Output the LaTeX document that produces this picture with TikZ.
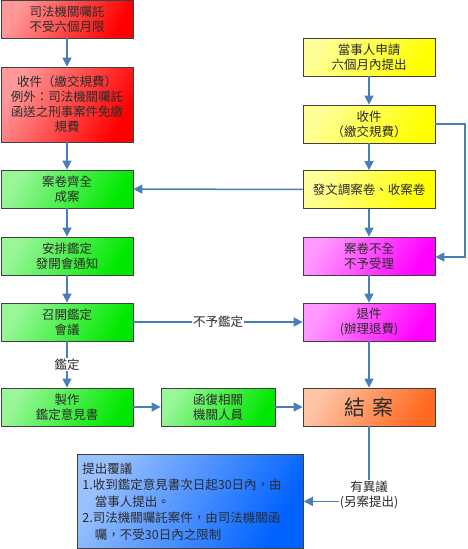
\documentclass[tikz,border=0pt]{standalone}
\usepackage{fontspec}
\setmainfont{Noto Sans CJK TC}
\usetikzlibrary{arrows.meta,positioning}
\definecolor{flow}{HTML}{4A7EBB}
\definecolor{txt}{HTML}{2B2B2B}
\definecolor{court}{HTML}{FF0000}
\definecolor{party}{HTML}{FFFF00}
\definecolor{done}{HTML}{00E800}
\definecolor{reject}{HTML}{FF00FF}
\definecolor{finish}{HTML}{FF6A20}
\definecolor{appealc}{HTML}{0062FF}

\begin{document}
\begin{tikzpicture}[x=1pt, y=-1pt, every node/.style={font=\fontsize{12.5}{15}\selectfont, text=txt},
  b/.style={draw=black!75, line width=0.8pt, minimum width=132pt, minimum height=38pt, align=center, inner sep=2pt},
  grad/.style={left color=#1!40!white, right color=#1, shading angle=60},
  l/.style={draw=flow, line width=1.5pt, -{Triangle[length=9pt,width=9pt]}},
  lab/.style={fill=white, inner sep=1pt, text=txt}]
\useasboundingbox (0,0) rectangle (467,549);
% left column
\node[b, grad=court] (lawreq) at (67,19) {司法機關囑託\\不受六個月限};
\node[b, grad=court, minimum height=75pt] (fee1) at (67,104.5) {收件（繳交規費）\\例外：司法機關囑託\\函送之刑事案件免繳\\規費};
\node[b, grad=done] (complete) at (67,189) {案卷齊全\\成案};
\node[b, grad=done] (arrange) at (67,256) {安排鑑定\\發開會通知};
\node[b, grad=done] (meeting) at (67,322) {召開鑑定\\會議};
\node[b, grad=done] (report) at (67,407) {製作\\鑑定意見書};
\node[b, grad=done, minimum width=114pt] (reply) at (218,407) {函復相關\\機關人員};
% right column
\node[b, grad=party] (apply) at (369,57) {當事人申請\\六個月內提出};
\node[b, grad=party] (fee2) at (369,124) {收件\\（繳交規費）};
\node[b, grad=party] (issue) at (369,189.5) {發文調案卷、收案卷};
\node[b, grad=reject] (incomplete) at (369,256) {案卷不全\\不予受理};
\node[b, grad=reject] (refund) at (369,322) {退件\\(辦理退費)};
\node[b, grad=finish] (close) at (369,407) {\fontsize{21}{24}\selectfont 結\hspace{7pt}案};
\node[b, grad=appealc, anchor=north west, minimum width=226pt, minimum height=94pt, text width=216pt, inner sep=5pt, align=left, font=\fontsize{12.5}{16.5}\selectfont] (appeal) at (77,454) {提出覆議\\1.收到鑑定意見書次日起30日內，由\\\hspace*{1em}當事人提出。\\2.司法機關囑託案件，由司法機關函\\\hspace*{1em}囑，不受30日內之限制};
\coordinate (loop) at (465,257);

\draw[l] (lawreq) -- (fee1);
\draw[l] (fee1) -- (complete);
\draw[l] (complete) -- (arrange);
\draw[l] (arrange) -- (meeting);
\draw[l] (meeting) -- node[lab] {鑑定} (report);
\draw[l] (meeting) -- node[lab] {不予鑑定} (refund);
\draw[l] (report) -- (reply);
\draw[l] (reply) -- (close);
\draw[l] (apply) -- (fee2);
\draw[l] (fee2) -- (issue);
\draw[l] (issue) -- (incomplete);
\draw[l] (issue) -- (complete);
\draw[l] (fee2.east) -| (loop) -- (incomplete.east |- loop);
\draw[l] (incomplete) -- (refund);
\draw[l] (refund) -- (close);
\draw[l] (close) |- node[lab, align=center, yshift=6pt] {有異議\\(另案提出)} (appeal);
\end{tikzpicture}
\end{document}
